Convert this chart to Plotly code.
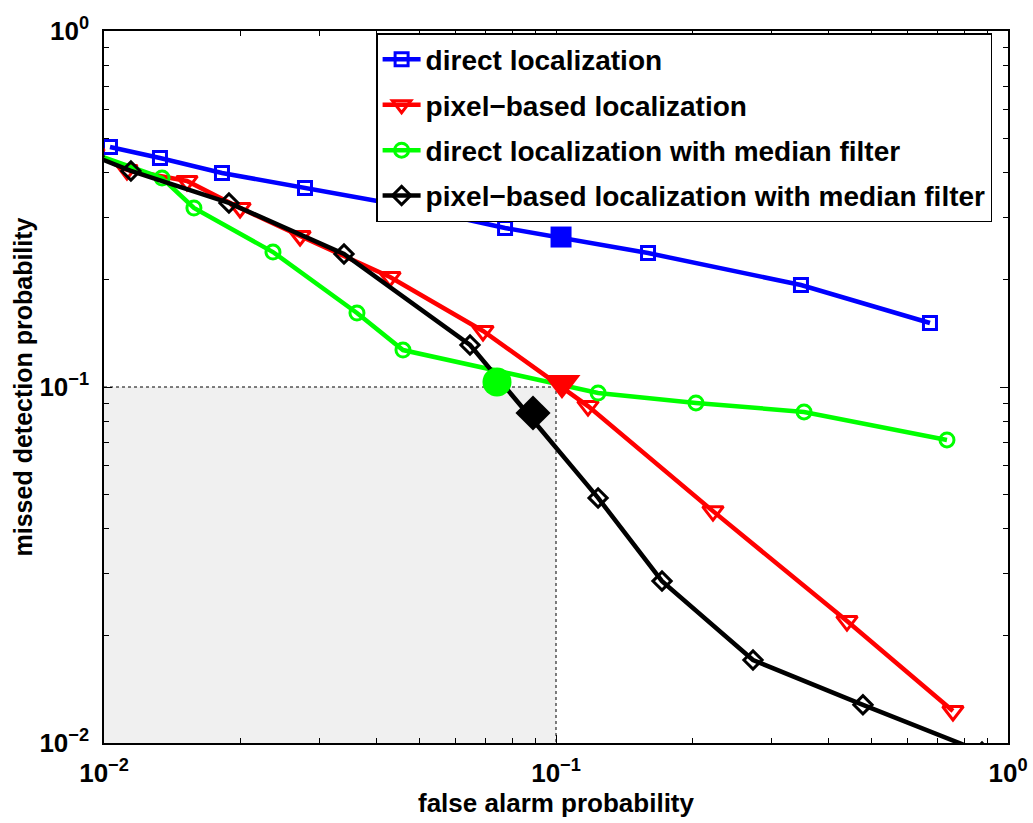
import plotly.graph_objects as go

# ---------------- data ----------------
blue_x = [0.01031, 0.01330, 0.01824, 0.02784, 0.04634, 0.07714, 0.1598, 0.3483, 0.6720]
blue_y = [0.4722, 0.4396, 0.3992, 0.3622, 0.3225, 0.2797, 0.2378, 0.1934, 0.1513]

red_x = [0.0095, 0.01124, 0.01526, 0.02000, 0.02715, 0.04293, 0.06894, 0.1177, 0.2225, 0.4403, 0.7555]
red_y = [0.452, 0.4071, 0.3792, 0.3183, 0.2655, 0.2037, 0.1437, 0.0884, 0.0448, 0.0220, 0.0123]

green_x = [0.0095, 0.01344, 0.01581, 0.02365, 0.03628, 0.04586, 0.1239, 0.2040, 0.3538, 0.7328]
green_y = [0.452, 0.3864, 0.3183, 0.2394, 0.1614, 0.1270, 0.0962, 0.0902, 0.0851, 0.0710]

black_x = [0.0095, 0.01147, 0.01890, 0.03396, 0.06453, 0.1239, 0.1716, 0.2728, 0.4776, 0.8760]
black_y = [0.445, 0.4045, 0.3288, 0.2364, 0.1312, 0.0488, 0.0285, 0.0171, 0.0128, 0.00943]

# operating points (big filled markers)
op_x = {"blue": 0.1026, "red": 0.1031, "green": 0.07404, "black": 0.08895}
op_y = {"blue": 0.2638, "red": 0.1026, "green": 0.1033, "black": 0.0845}

names = ["direct localization",
         "pixel\u2212based localization",
         "direct localization with median filter",
         "pixel\u2212based localization with median filter"]

# target region
target_x = [0.01, 0.1]
target_y = [0.01, 0.1]

x_ticks = [0.01, 0.1, 1]
x_ticktext = ["10<sup>\u22122</sup>", "10<sup>\u22121</sup>", "10<sup>0</sup>"]
y_ticks = [0.01, 0.1, 1]
y_ticktext = ["10<sup>\u22122</sup>", "10<sup>\u22121</sup>", "10<sup>0</sup>"]
minor_vals = [m * d for d in (0.01, 0.1) for m in range(2, 10)]

FONT = "Liberation Sans, Arial, Helvetica, sans-serif"

fig = go.Figure()

# shaded target area
fig.add_trace(go.Scatter(
    x=[target_x[0], target_x[1], target_x[1], target_x[0], target_x[0]],
    y=[target_y[0], target_y[0], target_y[1], target_y[1], target_y[0]],
    fill="toself", fillcolor="#f0f0f0", mode="none",
    showlegend=False, hoverinfo="skip"))
fig.add_trace(go.Scatter(
    x=[target_x[0], target_x[1], target_x[1]],
    y=[target_y[1], target_y[1], target_y[0]],
    mode="lines", line=dict(color="black", width=1, dash="3px,3px"),
    showlegend=False, hoverinfo="skip"))

series = [
    ("blue", "#0000ff", blue_x, blue_y, "square-open", 13, "square", 21),
    ("red", "#ff0000", red_x, red_y, "triangle-down-open", 18, "triangle-down", 32),
    ("green", "#00ff00", green_x, green_y, "circle-open", 14, "circle", 29),
    ("black", "#000000", black_x, black_y, "diamond-open", 14, "diamond", 27),
]

for i, (key, col, xs, ys, sym, sz, bigsym, bigsz) in enumerate(series):
    fig.add_trace(go.Scatter(
        x=xs, y=ys, mode="lines+markers", name=names[i],
        legendgroup=key,
        line=dict(color=col, width=4.5),
        marker=dict(symbol=sym, size=sz, color=col, line=dict(width=3, color=col)),
        cliponaxis=True))

for i, (key, col, xs, ys, sym, sz, bigsym, bigsz) in enumerate(series):
    fig.add_trace(go.Scatter(
        x=[op_x[key]], y=[op_y[key]], mode="markers", showlegend=False,
        legendgroup=key,
        marker=dict(symbol=bigsym, size=bigsz, color=col, line=dict(width=0))))

axis_common = dict(
    type="log", showgrid=False, zeroline=False, automargin=False,
    showline=True, linecolor="black", linewidth=1.5, mirror="allticks",
    ticks="inside", ticklen=8, tickwidth=1, tickcolor="black",
    tickfont=dict(family=FONT, size=26, color="black", weight="bold"),
    minor=dict(tickvals=minor_vals, ticks="inside", ticklen=5, tickwidth=1, tickcolor="black", showgrid=False),
)

fig.update_layout(
    width=1033, height=823,
    margin=dict(l=104, r=25, t=31, b=80),
    paper_bgcolor="white", plot_bgcolor="white",
    font=dict(family=FONT, color="black"),
    xaxis=dict(axis_common, range=[-2, 0], tickvals=x_ticks, ticktext=x_ticktext,
               ticklabelstandoff=6,
               title=dict(text="false alarm probability", standoff=2,
                          font=dict(family=FONT, size=26, color="black", weight="bold"))),
    yaxis=dict(axis_common, range=[-2, 0], tickvals=y_ticks, ticktext=y_ticktext,
               ticklabelstandoff=8,
               title=dict(text="missed detection probability", standoff=0,
                          font=dict(family=FONT, size=25, color="black", weight="bold"))),
    legend=dict(x=0.301, y=0.997, xanchor="left", yanchor="top",
                bgcolor="white", bordercolor="black", borderwidth=1.5,
                traceorder="grouped", tracegroupgap=6, itemwidth=38,
                font=dict(family=FONT, size=28, color="black", weight="bold")),
    showlegend=True,
)

fig.write_html("out.html")
